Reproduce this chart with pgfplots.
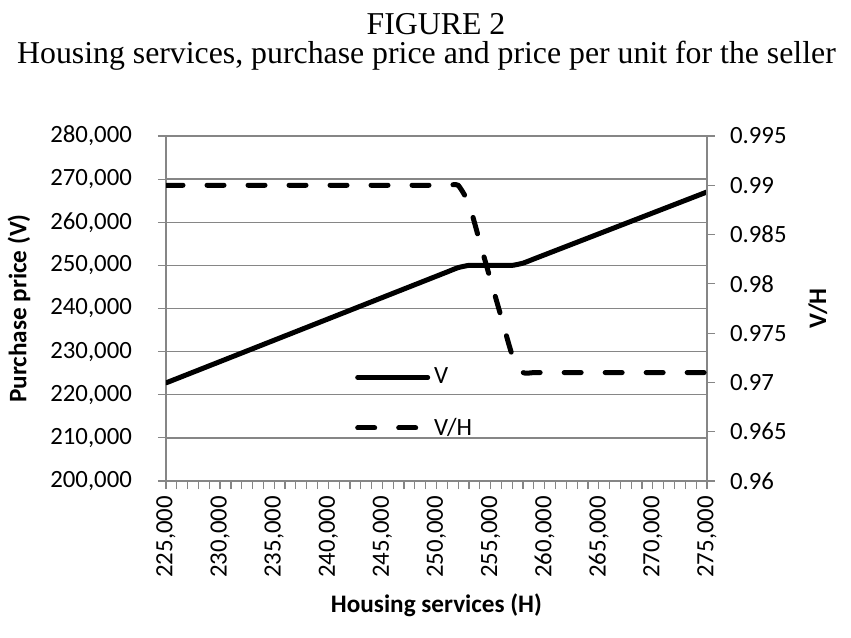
\documentclass[border=0pt]{standalone}
\usepackage{pgfplots}
\pgfplotsset{compat=1.18}
\usepackage{pgfplotstable}
\usepackage{fontspec}
\setmainfont{Carlito}
\newfontfamily\timesfont{Liberation Serif}
\definecolor{gridgray}{RGB}{134,134,134}

\pgfplotstableread{
H V
225000 222750
226000 223740
227000 224730
228000 225720
229000 226710
230000 227700
231000 228690
232000 229680
233000 230670
234000 231660
235000 232650
236000 233640
237000 234630
238000 235620
239000 236610
240000 237600
241000 238590
242000 239580
243000 240570
244000 241560
245000 242550
246000 243540
247000 244530
248000 245520
249000 246510
250000 247500
251000 248490
252000 249480
253000 250000
254000 250000
255000 250000
256000 250000
257000 250000
258000 250518
259000 251489
260000 252460
261000 253431
262000 254402
263000 255373
264000 256344
265000 257315
266000 258286
267000 259257
268000 260228
269000 261199
270000 262170
271000 263141
272000 264112
273000 265083
274000 266054
275000 267025
}\tabV

\pgfplotstableread{
H VH
225000 0.99
226000 0.99
227000 0.99
228000 0.99
229000 0.99
230000 0.99
231000 0.99
232000 0.99
233000 0.99
234000 0.99
235000 0.99
236000 0.99
237000 0.99
238000 0.99
239000 0.99
240000 0.99
241000 0.99
242000 0.99
243000 0.99
244000 0.99
245000 0.99
246000 0.99
247000 0.99
248000 0.99
249000 0.99
250000 0.99
251000 0.99
252000 0.99
253000 0.98814
254000 0.98425
255000 0.98039
256000 0.97656
257000 0.97276
258000 0.971
259000 0.971
260000 0.971
261000 0.971
262000 0.971
263000 0.971
264000 0.971
265000 0.971
266000 0.971
267000 0.971
268000 0.971
269000 0.971
270000 0.971
271000 0.971
272000 0.971
273000 0.971
274000 0.971
275000 0.971
}\tabVH

\begin{document}
\begin{tikzpicture}
\path[use as bounding box] (-83pt,-78pt) rectangle (342.5pt,240.5pt);
\node[font=\timesfont\fontsize{15.9}{18}\selectfont, anchor=base, inner sep=0pt, text depth=0pt] at (135pt,223pt) {FIGURE 2};
\node[font=\timesfont\fontsize{15.9}{18}\selectfont, anchor=base, inner sep=0pt, text height=10.5pt] at (130.25pt,208.5pt) {Housing services, purchase price and price per unit for the seller};

\pgfplotsset{
  mybase/.style={
    scale only axis, width=270.5pt, height=172.5pt,
    at={(0pt,0pt)}, anchor=south west,
    xmin=225000, xmax=275000,
    tick align=outside,
    major tick length=4pt, minor tick length=4pt,
    every tick/.style={gridgray, line width=0.6pt},
    axis line style={gridgray, line width=0.65pt},
    tick label style={font=\fontsize{12.4}{14}\selectfont, black},
    /pgf/number format/assume math mode=true,
  }
}

\begin{axis}[mybase,
  axis x line*=bottom, axis y line*=left,
  ymin=200000, ymax=280000,
  ytick={200000,210000,...,280000},
  xtick={225000,230000,...,275000},
  minor x tick num=4,
  scaled x ticks=false, scaled y ticks=false,
  xticklabel style={rotate=90, anchor=east, /pgf/number format/.cd, fixed, 1000 sep={,}},
  yticklabel style={xshift=-9.5pt, /pgf/number format/.cd, fixed, 1000 sep={,}},
  ymajorgrids, grid style={gridgray, line width=0.65pt},
  xlabel={Housing services (H)},
  ylabel={Purchase price (V)},
  label style={font=\bfseries\fontsize{12.6}{15}\selectfont},
  xlabel style={at={(axis description cs:0.5,0)}, anchor=center, yshift=-62pt},
  ylabel style={at={(axis description cs:-0.2717,0.5)}, anchor=center},
]
\addplot[black, line width=2.5pt, line cap=round, smooth, tension=0.3] table[x=H, y=V] {\tabV};
\end{axis}

\begin{axis}[mybase,
  axis x line=none, axis y line*=right,
  ymin=0.96, ymax=0.995,
  ytick={0.96,0.965,0.97,0.975,0.98,0.985,0.99,0.995},
  yticklabels={0.96,0.965,0.97,0.975,0.98,0.985,0.99,0.995},
  yticklabel style={xshift=4pt},
  ylabel={V/H},
  ylabel style={font=\bfseries\fontsize{12.6}{15}\selectfont, at={(axis description cs:1.205,0.5)}, anchor=center},
  legend style={at={(axis description cs:0.349,0.226)}, anchor=west, draw=none, fill=none,
    font=\fontsize{12.4}{14}\selectfont, row sep=11.5pt, inner sep=0pt,
    /tikz/every even column/.append style={column sep=2pt}},
  legend cell align=left,
  legend image code/.code={\draw[#1] (0pt,0pt) -- (35pt,0pt);},
]
\addlegendimage{black, line width=2.5pt, line cap=round}
\addlegendentry{V}
\addplot[black, line width=2.5pt, line cap=round, dash pattern=on 8.5pt off 12pt, smooth, tension=0.3] table[x=H, y=VH] {\tabVH};
\addlegendentry{V/H}
\end{axis}
\end{tikzpicture}
\end{document}
